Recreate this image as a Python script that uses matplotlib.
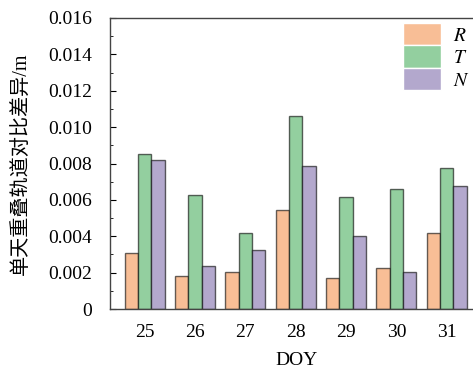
import matplotlib
matplotlib.use('Agg')
import matplotlib.pyplot as plt
import numpy as np
from matplotlib.ticker import MultipleLocator

plt.rcParams['font.family'] = ['Liberation Serif', 'Noto Sans CJK SC']
plt.rcParams['mathtext.fontset'] = 'stix'

# data
days = [25, 26, 27, 28, 29, 30, 31]
r_vals = [0.00306, 0.00181, 0.00202, 0.00544, 0.00169, 0.00225, 0.00416]
t_vals = [0.00852, 0.00629, 0.00416, 0.01060, 0.00614, 0.00660, 0.00777]
n_vals = [0.00818, 0.00238, 0.00326, 0.00785, 0.00401, 0.00203, 0.00676]
series_names = ['R', 'T', 'N']
colors = ['#F8BE96', '#93CF9F', '#B3A8CD']
y_ticks = [0, 0.002, 0.004, 0.006, 0.008, 0.010, 0.012, 0.014, 0.016]
y_tick_labels = ['0', '0.002', '0.004', '0.006', '0.008', '0.010', '0.012', '0.014', '0.016']

fig = plt.figure(figsize=(4.73, 3.72), dpi=100)
ax = fig.add_axes([110 / 473, 63 / 372, 1.0 - 110 / 473 + 0.02, 291 / 372])

x = np.arange(len(days))
width = 0.264
edge = (0, 0, 0, 0.6)
for i, vals in enumerate([r_vals, t_vals, n_vals]):
    ax.bar(x + (i - 1) * width, vals, width, color=colors[i],
           edgecolor=edge, linewidth=1.0, label=series_names[i])

ax.set_xlim(-0.689, 6.71)
ax.set_ylim(0, 0.016)
ax.set_xticks(x)
ax.set_xticklabels([str(d) for d in days])
ax.set_yticks(y_ticks)
ax.set_yticklabels(y_tick_labels)
ax.yaxis.set_minor_locator(MultipleLocator(0.001))
ax.tick_params(axis='y', which='both', direction='in', labelsize=14, pad=13)
ax.tick_params(axis='y', which='major', length=4)
ax.tick_params(axis='y', which='minor', length=2)
ax.tick_params(axis='x', length=0, labelsize=14, pad=11)
ax.spines['right'].set_visible(False)
for s in ['left', 'top', 'bottom']:
    ax.spines[s].set_color('#444444')
    ax.spines[s].set_linewidth(1.0)

ax.set_xlabel('DOY', fontsize=14, labelpad=8)
ax.set_ylabel('单天重叠轨道对比差异/m', fontsize=14.5, labelpad=12)

handles = []
for i in range(3):
    p = plt.Rectangle((0, 0), 1, 1, facecolor=colors[i], edgecolor='white', linewidth=1)
    handles.append(p)
leg = fig.legend(handles, ['$\\mathit{' + n + '}$' for n in series_names],
                 loc='upper left', bbox_to_anchor=(403 / 473, 1 - 23 / 372),
                 frameon=False, fontsize=14, handlelength=1.95, handleheight=1.4,
                 labelspacing=0.0, handletextpad=0.6, borderaxespad=0, borderpad=0)

fig.savefig('out.png', dpi=100)
